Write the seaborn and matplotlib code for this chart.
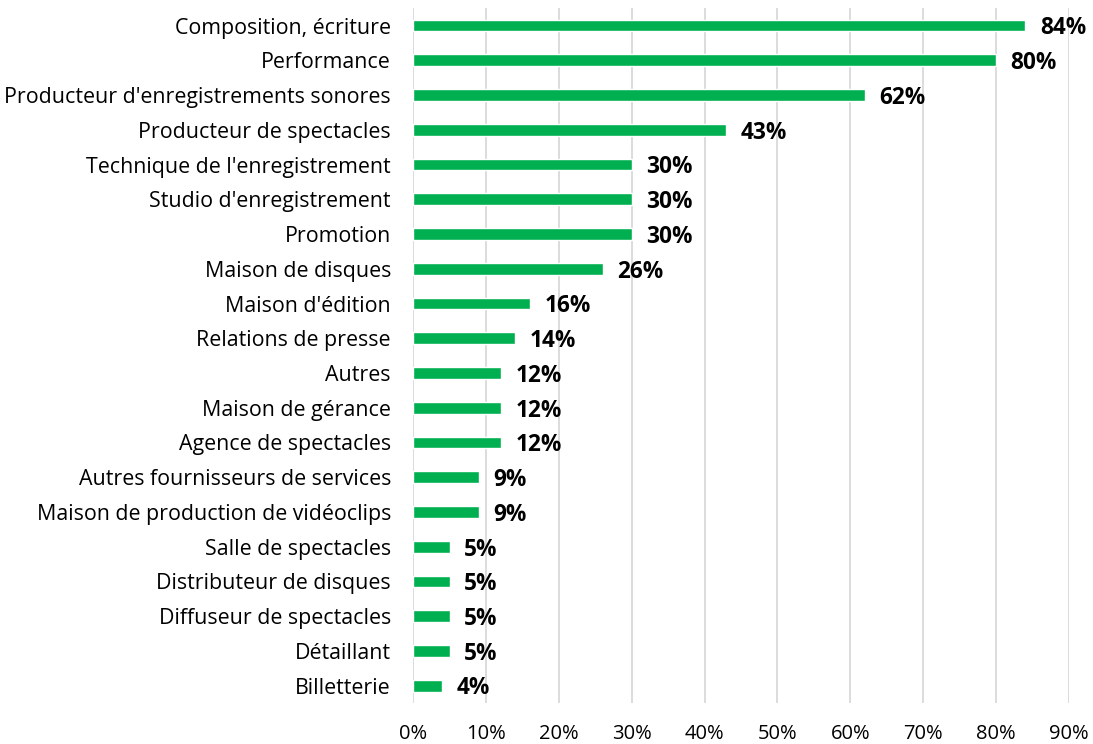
import numpy as np
import pandas as pd
import matplotlib
matplotlib.use("Agg")
import matplotlib.pyplot as plt
import seaborn as sns

categories = [
    "Composition, écriture",
    "Performance",
    "Producteur d'enregistrements sonores",
    "Producteur de spectacles",
    "Technique de l'enregistrement",
    "Studio d'enregistrement",
    "Promotion",
    "Maison de disques",
    "Maison d'édition",
    "Relations de presse",
    "Autres",
    "Maison de gérance",
    "Agence de spectacles",
    "Autres fournisseurs de services",
    "Maison de production de vidéoclips",
    "Salle de spectacles",
    "Distributeur de disques",
    "Diffuseur de spectacles",
    "Détaillant",
    "Billetterie",
]
values = [84, 80, 62, 43, 30, 30, 30, 26, 16, 14, 12, 12, 12, 9, 9, 5, 5, 5, 5, 4]
tick_values = [0, 10, 20, 30, 40, 50, 60, 70, 80, 90]
tick_labels = [f"{t}%" for t in tick_values]

df = pd.DataFrame({"cat": categories, "val": values})

sns.set_style("white")
plt.rcParams['font.family'] = ['Open Sans', 'DejaVu Sans']

fig = plt.figure(figsize=(10.93, 7.44), dpi=100)
ax = fig.add_axes([0.378, 0.055, 0.6, 0.934])

sns.barplot(data=df, x="val", y="cat", color="#00b050", width=0.34,
            saturation=1, ax=ax, zorder=3)

ax.set_xlim(0, 90)
ax.set_xticks(tick_values)
ax.set_xticklabels(tick_labels, fontsize=14.5, color="black")
ax.tick_params(axis='y', labelsize=15.4, length=0, pad=16, labelcolor="black")
ax.tick_params(axis='x', length=0, pad=15)
ax.set_xlabel("")
ax.set_ylabel("")
ax.set_ylim(len(categories) - 0.5, -0.5)

ax.grid(axis='x', color="#d9d9d9", linewidth=1.3, zorder=0)
for s in ax.spines.values():
    s.set_visible(False)

for i, v in enumerate(values):
    ax.text(v + 2.0, i + 0.08, f"{v}%", va='center', ha='left',
            fontsize=16.3, fontweight='bold', color='black')

fig.savefig("out.png", dpi=100)
